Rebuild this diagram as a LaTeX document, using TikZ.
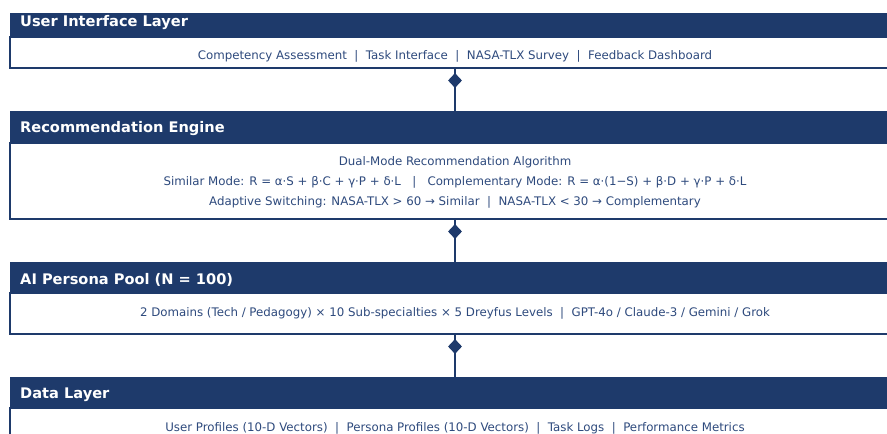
\documentclass[tikz,border=0pt]{standalone}
\usepackage{fontspec}
\setmainfont{DejaVu Sans}
\usetikzlibrary{shapes.geometric}
\definecolor{navy}{HTML}{1E3A6B}
\definecolor{bodytxt}{HTML}{2E4A7D}
\tikzset{
  hdr/.style={rectangle, fill=navy, draw=navy, line width=1pt, inner sep=0pt, outer sep=0pt, anchor=north west, minimum width=890pt},
  bodybox/.style={rectangle, fill=white, draw=navy, line width=1.3pt, inner sep=0pt, outer sep=0pt, anchor=north west, minimum width=890pt},
  htext/.style={anchor=west, text=white, font=\bfseries\fontsize{14.6}{17}\selectfont, inner sep=0pt},
  btext/.style={anchor=center, text=bodytxt, font=\fontsize{11.8}{14}\selectfont, inner sep=0pt},
  conn/.style={draw=navy, line width=1.5pt},
  dmd/.style={diamond, fill=navy, inner sep=0pt, minimum width=14pt, minimum height=15pt}
}
\begin{document}
\begin{tikzpicture}[x=1pt,y=-1pt]
\useasboundingbox (0,0) rectangle (887,434);
\clip (0,0) rectangle (887,434);
% Box 1
\node[bodybox, minimum height=31pt] (b1) at (10,37) {};
\node[hdr, minimum height=24pt] (h1) at (10,13) {};
\node[htext] (t1) at (20,23) {User Interface Layer};
\node[btext] (l1) at (455,56) {Competency Assessment \ | \ Task Interface \ | \ NASA-TLX Survey \ | \ Feedback Dashboard};
% Box 2
\node[bodybox, minimum height=76pt] (b2) at (10,143) {};
\node[hdr, minimum height=32pt] (h2) at (10,111) {};
\node[htext] (t2) at (20,129) {Recommendation Engine};
\node[btext] (l2a) at (455,162) {Dual-Mode Recommendation Algorithm};
\node[btext] (l2b) at (455,182) {Similar Mode: R = α·S + β·C + γ·P + δ·L \ \ | \ \ Complementary Mode: R = α·(1−S) + β·D + γ·P + δ·L};
\node[btext] (l2c) at (455,202) {Adaptive Switching: NASA-TLX > 60 → Similar \ | \ NASA-TLX < 30 → Complementary};
% Box 3
\node[bodybox, minimum height=41pt] (b3) at (10,293) {};
\node[hdr, minimum height=31pt] (h3) at (10,262) {};
\node[htext] (t3) at (20,280) {AI Persona Pool (N = 100)};
\node[btext] (l3) at (455,313) {2 Domains (Tech / Pedagogy) × 10 Sub-specialties × 5 Dreyfus Levels \ | \ GPT-4o / Claude-3 / Gemini / Grok};
% Box 4
\node[bodybox, minimum height=40pt] (b4) at (10,408) {};
\node[hdr, minimum height=31pt] (h4) at (10,377) {};
\node[htext] (t4) at (20,395) {Data Layer};
\node[btext] (l4) at (455,428) {User Profiles (10-D Vectors) \ | \ Persona Profiles (10-D Vectors) \ | \ Task Logs \ | \ Performance Metrics};
% connectors
\draw[conn] (b1.south) -- (h2.north);
\draw[conn] (b2.south) -- (h3.north);
\draw[conn] (b3.south) -- (h4.north);
\node[dmd] (d1) at (455,80.5) {};
\node[dmd] (d2) at (455,231.5) {};
\node[dmd] (d3) at (455,346.5) {};
\end{tikzpicture}
\end{document}
